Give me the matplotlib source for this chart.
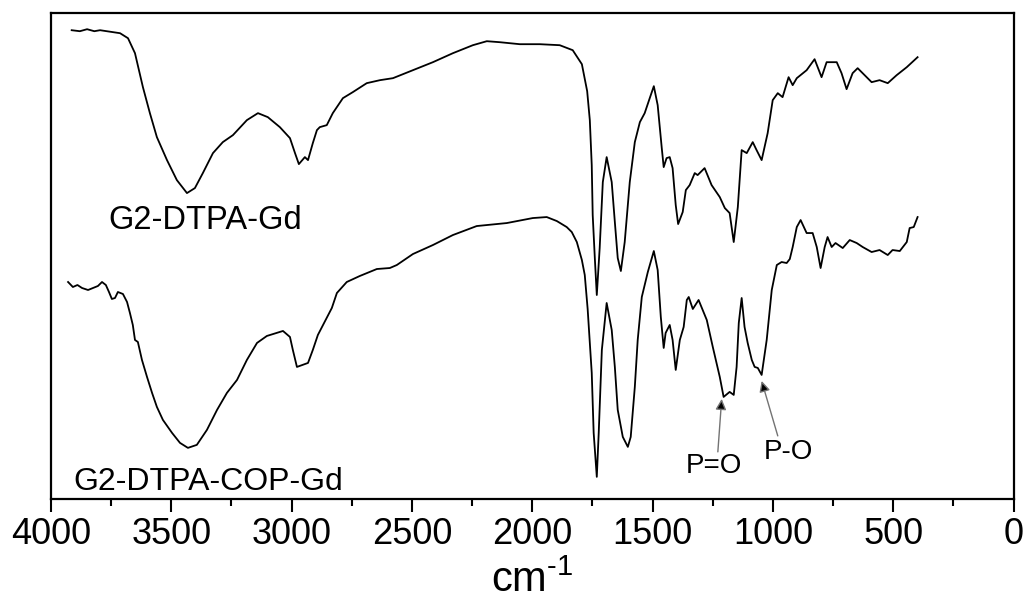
import matplotlib
matplotlib.use("Agg")
import matplotlib.pyplot as plt
from matplotlib.ticker import MultipleLocator

plt.rcParams['font.family'] = ['Liberation Sans', 'DejaVu Sans']
plt.rcParams['mathtext.fontset'] = 'custom'
plt.rcParams['mathtext.rm'] = 'Liberation Sans'

# G2-DTPA-Gd spectrum (wavenumber, transmittance a.u.)
wn_gd = [3914, 3880, 3850, 3820, 3796, 3713, 3680, 3651, 3618, 3589, 3560,
         3518, 3477,
         3435, 3402, 3369, 3327, 3286, 3244, 3186, 3140, 3099, 3049, 3007,
         2986, 2970, 2945, 2932, 2912, 2895, 2883, 2854, 2829, 2787, 2746,
         2688, 2633, 2579, 2496, 2413, 2330, 2247, 2189, 2135, 2052, 1969,
         1886, 1832, 1794, 1772, 1761, 1753, 1749, 1740, 1732, 1720, 1707,
         1691, 1670, 1657, 1645, 1632, 1616, 1595, 1574, 1553, 1533, 1512,
         1495, 1479, 1462, 1454, 1442, 1429, 1417, 1404, 1394, 1375, 1362,
         1346, 1325, 1313, 1284, 1255, 1221, 1200, 1180, 1163, 1146, 1130,
         1109, 1084, 1068, 1047, 1022, 1001, 980, 960, 935, 918, 901, 860,
         827, 798, 777, 735, 715, 694, 669, 648, 590, 557, 523, 486, 444,
         399]
t_gd = [469, 468, 470, 468, 469, 466, 461, 446, 412, 386, 362,
        339, 319,
        306, 311, 326, 346, 357, 364, 379, 386, 382, 372, 361,
        346, 335, 342, 339, 356, 369, 372, 374, 386, 401, 407,
        416, 419, 421, 429, 437, 446, 454, 458, 457, 455, 455,
        454, 449, 435, 408, 379, 334, 284, 240, 204, 251, 317,
        342, 317, 277, 241, 228, 257, 317, 357, 377, 386, 401,
        413, 394, 351, 332, 341, 342, 331, 294, 275, 287, 309,
        314, 326, 324, 331, 314, 302, 291, 286, 257, 292, 349,
        346, 357, 349, 339, 366, 399, 406, 402, 422, 414, 421, 429,
        440, 422, 437, 437, 426, 410, 426, 431, 417, 419, 416, 424, 432,
        442]

# G2-DTPA-COP-Gd spectrum
wn_cop = [3929, 3909, 3890, 3871, 3846, 3825, 3805, 3788, 3772, 3759, 3747,
          3734, 3722, 3701, 3684, 3672, 3660, 3651, 3639, 3622, 3601, 3580,
          3560, 3535, 3497, 3464, 3431, 3394, 3352, 3310, 3269, 3227, 3186,
          3144, 3103, 3036, 3007, 2995, 2978, 2932, 2912, 2891, 2833, 2812,
          2771, 2717, 2646, 2592, 2563, 2496, 2413, 2330, 2231, 2106, 1998,
          1940, 1898, 1857, 1836, 1815, 1794, 1782, 1770, 1753, 1745, 1732,
          1724, 1711, 1691, 1670, 1657, 1645, 1624, 1603, 1591, 1574, 1562,
          1545, 1528, 1520, 1495, 1479, 1466, 1454, 1446, 1429, 1417, 1404,
          1387, 1371, 1358, 1350, 1333, 1309, 1275, 1250, 1221, 1205, 1180,
          1163, 1151, 1142, 1130, 1118, 1105, 1088, 1076, 1063, 1047, 1026,
          1005, 984, 964, 943, 930, 918, 901, 885, 860, 835, 818, 802, 785,
          773, 756, 740, 710, 681, 652, 627, 590, 557, 523, 503, 473, 444,
          432, 415, 399]
t_cop = [217, 212, 214, 211, 209, 211, 213, 217, 214, 207, 200,
         201, 207, 205, 197, 186, 174, 159, 157, 139, 122, 106,
         92, 79, 66, 56, 51, 54, 69, 89, 106, 119, 139,
         156, 163, 168, 162, 149, 132, 136, 149, 164, 191, 206,
         217, 223, 230, 231, 234, 245, 254, 264, 273, 276, 281,
         282, 278, 272, 267, 257, 239, 224, 190, 126, 66, 22,
         66, 149, 196, 169, 132, 89, 62, 52, 62, 112, 159,
         202, 219, 227, 248, 229, 182, 151, 166, 174, 159, 129,
         159, 172, 199, 202, 190, 199, 179, 152, 122, 102, 107,
         104, 132, 176, 201, 172, 156, 139, 132, 131, 124, 159,
         209, 234, 237, 236, 240, 252, 272, 279, 266, 266, 252, 231, 252,
         262, 252, 256, 251, 259, 256, 252, 247, 249, 244, 249, 248, 257,
         271, 272, 282]

fig = plt.figure(figsize=(10.28, 6.01), dpi=100)
ax = fig.add_axes([0.0496, 0.170, 0.9364, 0.808])

ax.plot(wn_gd, t_gd, color='k', lw=1.3)
ax.plot(wn_cop, t_cop, color='k', lw=1.3)

ax.set_xlim(4000, 0)
ax.set_ylim(0, 486)
ax.xaxis.set_major_locator(MultipleLocator(500))
ax.xaxis.set_minor_locator(MultipleLocator(250))
ax.set_yticks([])
ax.tick_params(axis='x', which='major', direction='out', length=9, width=1.5,
               labelsize=26, pad=4, top=False)
ax.tick_params(axis='x', which='minor', direction='out', length=5, width=1.5,
               top=False)
for s in ax.spines.values():
    s.set_linewidth(1.6)

ax.set_xlabel(r'cm$^{\text{-1}}$', fontsize=30, labelpad=6)

ax.text(3763, 279, 'G2-DTPA-Gd', fontsize=23.5, va='center', ha='left')
ax.text(3909, 17, 'G2-DTPA-COP-Gd', fontsize=23, va='center', ha='left')

arrow = dict(arrowstyle='-|>', ec='0.45', fc='k', lw=1, mutation_scale=16,
             shrinkA=0, shrinkB=0)
ax.annotate('', xy=(1213, 100), xytext=(1229, 47), arrowprops=arrow)
ax.annotate('', xy=(1047, 118), xytext=(980, 63), arrowprops=arrow)
ax.text(1246, 33, 'P=O', fontsize=20, va='center', ha='center')
ax.text(934, 47, 'P-O', fontsize=20, va='center', ha='center')

fig.savefig('out.png', dpi=100)
